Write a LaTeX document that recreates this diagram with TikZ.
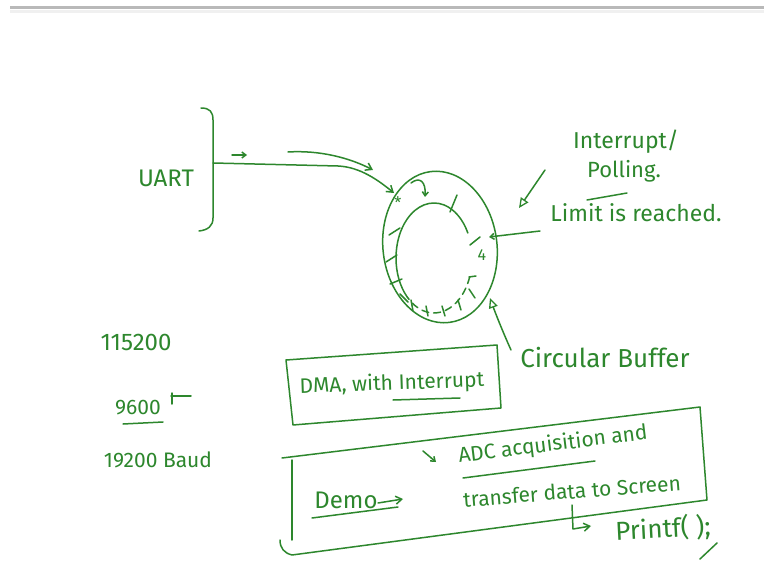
\documentclass[tikz,border=0pt]{standalone}
\usepackage{fontspec}
\setmainfont{Fira Sans}
\usetikzlibrary{arrows.meta}
\definecolor{ink}{RGB}{45,135,45}
\newcommand\hsz[1]{\fontsize{#1}{#1}\selectfont}
\begin{document}
\begin{tikzpicture}[x=1pt,y=-1pt,
  pen/.style={draw=ink, line width=1.5pt, line cap=round, line join=round},
  lbl/.style={text=ink, inner sep=0pt, anchor=center},
  arr/.style={-{Straight Barb[length=6pt,width=8pt]}},
  arrs/.style={-{Straight Barb[length=4pt,width=6pt]}},
  oarr/.style={-{Triangle[open,length=10pt,width=9pt,line width=1.3pt]}},
]
\useasboundingbox (0,0) rectangle (764,575);
\fill[white] (0,0) rectangle (764,575);
\draw[gray!55, line width=3pt] (10,8) -- (764,8);
\draw[gray!12, line width=3pt] (10,12) -- (764,12);

% UART and bracket
\node[lbl, font=\hsz{24}] (uart) at (166,178) {UART};
\coordinate (bTop) at (201,108);
\coordinate (bBot) at (199,231);
\coordinate (bMid) at (213,163);
\draw[pen] (bTop) .. controls (210,108) and (213,112) .. (213,120) -- (213,218) .. controls (213,226) and (208,230) .. (bBot);

% ring (circular buffer)
\coordinate (ring) at (440,247);
\coordinate (core) at (434,258);
\draw[pen, rotate around={7:(ring)}] (ring) ellipse [x radius=57, y radius=76];
\draw[pen] (core) ++(135:38 and 55) arc [start angle=135, end angle=333, x radius=38, y radius=55];
\draw[pen, dash pattern=on 7pt off 5pt] (core) ++(20:38 and 55) arc [start angle=20, end angle=135, x radius=38, y radius=55];
% ticks in the ring
\draw[pen] (450,212) -- (457,195);
\draw[pen] (470,245) -- (480,237);
\draw[pen] (389,235) -- (400,228);
\draw[pen] (386,262) -- (397,255);
\draw[pen] (390,284) -- (402,279);
\draw[pen] (400,294) -- (408,302);
\draw[pen] (411,300) -- (413,311);
\draw[pen] (426,306) -- (428,316);
\draw[pen] (442,306) -- (445,316);
\draw[pen] (458,300) -- (461,310);
\draw[pen] (469,289) -- (475,298);
\draw[pen] (469,277) -- (476,276);
\draw[pen, arrs] (411,183) .. controls (420,176) and (426,182) .. (425,197);
\node[lbl, font=\hsz{16}] (star) at (398,203) {*};
\node[lbl, font=\hsz{16}] (four) at (482,255) {4};

% arrows from UART
\coordinate (inA) at (394,193);
\draw[pen, arr] (bMid) -- (338,166) .. controls (360,167) and (378,180) .. (inA);
\coordinate (s1) at (232,155);
\coordinate (s2) at (247,155);
\draw[pen, arrs] (s1) -- (s2);
\coordinate (u1) at (288,152);
\coordinate (u2) at (373,170);
\draw[pen, arr] (u1) .. controls (320,150) and (350,158) .. (u2);

% interrupt / polling
\node[lbl, font=\hsz{23}] (intr) at (626,142) {Interrupt/};
\node[lbl, font=\hsz{22}] (poll) at (624,171) {Polling.};
\draw[pen] (587,200) -- (627,193);
\node[lbl, font=\hsz{23}] (limit) at (636,213) {Limit is reached.};
\coordinate (ia) at (545,170);
\coordinate (ib) at (519,208);
\draw[pen, oarr] (ia) -- (ib);
\coordinate (la) at (540,231);
\coordinate (lb) at (489,237);
\draw[pen, arrs] (la) -- (lb);

% circular buffer label
\node[lbl, font=\hsz{26}] (cbuf) at (605,358) {Circular Buffer};
\coordinate (ca) at (511,350);
\coordinate (cb) at (490,298);
\draw[pen, oarr] (ca) .. controls (502,330) and (495,312) .. (cb);

% baud rates
\node[lbl, font=\hsz{24}] (n1) at (136,342) {115200};
\node[lbl, font=\hsz{21}] (n2) at (138,408) {9600};
\draw[pen] (123,424) -- (163,422);
\draw[pen] (171,396) -- (191,396);
\draw[pen] (172,393) -- (172,404);
\node[lbl, font=\hsz{21}] (n3) at (158,460) {19200 Baud};

% DMA box
\node[lbl, font=\hsz{21}, rotate=2] (dma) at (392,384) {DMA, with Interrupt};
\draw[pen] (393,400) -- (460,398);
\draw[pen] (286,360) -- (497,345) -- (501,408) -- (293,425) -- cycle;

% demo box
\draw[pen] (282,458) -- (700,407) -- (707,500) -- (292,555) .. controls (284,553) and (280,548) .. (280,540);
\draw[pen] (292,460) -- (292,540);
\node[lbl, font=\hsz{24}] (demo) at (346,500) {Demo};
\coordinate (da) at (378,503);
\coordinate (db) at (403,499);
\draw[pen, arr] (da) -- (db);
\draw[pen] (312,518) -- (398,507);
\coordinate (ka) at (423,451);
\coordinate (kb) at (436,462);
\draw[pen, arrs] (ka) -- (kb);
\node[lbl, font=\hsz{21}, rotate=7] (adc) at (553,445) {ADC acquisition and};
\draw[pen] (463,478) -- (595,461);
\node[lbl, font=\hsz{21}, rotate=4.5] (xfer) at (572,491) {transfer data to Screen};
\coordinate (pa) at (572,505);
\coordinate (pb) at (591,526);
\draw[pen, arr] (pa) -- (573,529) -- (pb);
\node[lbl, font=\hsz{26}, rotate=3] (pf) at (663,529) {Printf( );};
\draw[pen] (700,559) -- (717,543);
\end{tikzpicture}
\end{document}
